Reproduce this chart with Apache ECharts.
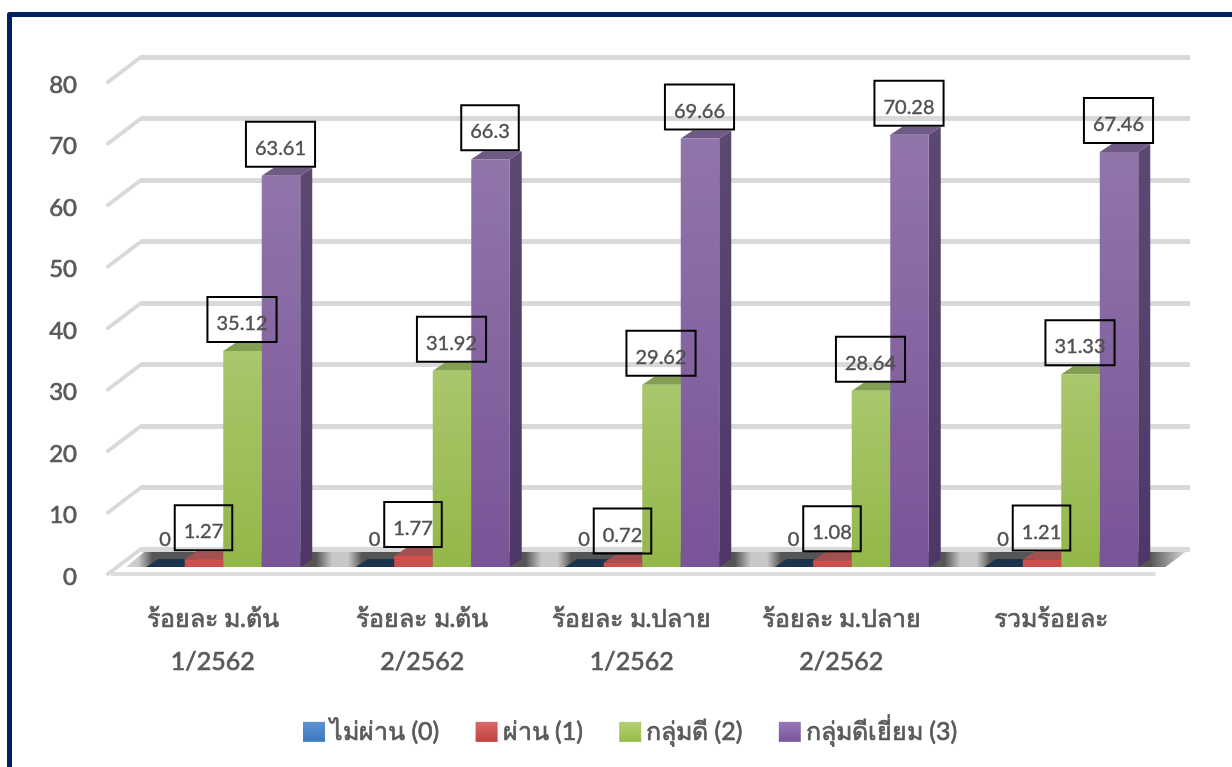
<!DOCTYPE html>
<html><head><meta charset="utf-8">
<style>html,body{margin:0;padding:0;background:#fff}#c{width:1232px;height:767px}</style>
<script src="https://cdn.jsdelivr.net/npm/echarts@6/dist/echarts.min.js"></script>
</head><body><div id="c"></div>
<script>
const categories = ['ร้อยละ ม.ต้น\n1/2562','ร้อยละ ม.ต้น\n2/2562','ร้อยละ ม.ปลาย\n1/2562','ร้อยละ ม.ปลาย\n2/2562','รวมร้อยละ'];
const seriesNames = ['ไม่ผ่าน (0)','ผ่าน (1)','กลุ่มดี (2)','กลุ่มดีเยี่ยม (3)'];
const notPass = [0,0,0,0,0];
const pass = [1.27,1.77,0.72,1.08,1.21];
const good = [35.12,31.92,29.62,28.64,31.33];
const excellent = [63.61,66.3,69.66,70.28,67.46];
const yTicks = [0,10,20,30,40,50,60,70,80];
const allValues = [notPass,pass,good,excellent];
const legendColors = [['#5b93d3','#3d78bd'],['#d96a68','#c0413f'],['#b3d074','#96bb4a'],['#9678b8','#7a559c']];
const faces = [
 {front:['#4a7ebb','#3a6ea8'],side:['#1c3350','#1c3350'],top:'#1c3350'},
 {front:['#d0504e','#c84f4c'],side:['#8e3a39','#8e3a39'],top:'#a25050'},
 {front:['#a9c76c','#93b749'],side:['#6f8b38','#6f8b38'],top:'#83a052'},
 {front:['#9075ab','#795497'],side:['#5c4972','#4e3768'],top:'#6f5a85'}
];
const font = 'Lato,"Noto Sans",sans-serif';
const grey = '#595959';
const DX=33, DY=-25, BX=11, BY=-7, BAR=38.5, TX=12, TY=-8;
const wallW = 1047.5;
const vGrad=(a,b)=>({type:'linear',x:0,y:0,x2:0,y2:1,colorStops:[{offset:0,color:a},{offset:1,color:b}]});

function renderBar(si){
  return function(params,api){
    const c = api.coord([api.value(0),0]);
    const v = api.value(1);
    const t = api.coord([api.value(0),v]);
    const x0 = c[0]+BX+(si-2)*BAR-0.5, x1=x0+BAR, yb=c[1]+BY, yt=t[1]+BY;
    const f=faces[si];
    return {type:'group',children:[
     {type:'polygon',shape:{points:[[x1,yb],[x1+TX,yb+TY],[x1+TX,yt+TY],[x1,yt]]},style:{fill:vGrad(f.side[0],f.side[1])}},
     {type:'polygon',shape:{points:[[x0,yt],[x0+TX,yt+TY],[x1+TX,yt+TY],[x1,yt]]},style:{fill:f.top}},
     {type:'rect',shape:{x:x0,y:yt,width:BAR,height:yb-yt},style:{fill:vGrad(f.front[0],f.front[1])}}
    ]};
  };
}
function renderLabel(si){
  return function(params,api){
    const c = api.coord([api.value(0),api.value(1)]);
    const v = api.value(1);
    const cx = c[0]+BX+(si-2)*BAR-0.5+BAR/2, y=c[1]+BY-9;
    return {type:'text',style:{x:cx-0.5,y:y,text:String(v),align:'center',verticalAlign:'bottom',
      font:'20px '+font,fill:'#505050',stroke:'#505050',lineWidth:0.4,lineHeight:27,padding:[13,9,5,9],
      borderColor:v===0?'transparent':'#000',borderWidth:v===0?0:2}};
  };
}
function barData(arr){return arr.map((v,i)=>[i,v]);}
function floorStops(x0,w){
  const s=[];
  const put=(px,color)=>{const o=(px-x0)/w; if(o>=0&&o<=1)s.push({offset:o,color});};
  put(x0,'#d4d4d4');
  for(let i=0;i<5;i++){
    const m=340+209.5*(i-1);
    put(m-24,'#555');put(m-8,'#c8c8c8');put(m+8,'#c8c8c8');put(m+22,'#555');
  }
  put(1150,'#555');put(1185,'#d4d4d4');
  return s;
}

const series=[];
series.push({type:'custom',xAxisIndex:0,yAxisIndex:0,z:1,silent:true,data:yTicks.map(v=>[0,v]),
  renderItem(params,api){
    const p=api.coord([0,api.value(1)]);
    const x=params.coordSys.x,y=p[1];
    return {type:'line',shape:{x1:x,y1:y,x2:x+DX,y2:y+DY},style:{stroke:'#d9d9d9',lineWidth:4,lineCap:'round'}};
  }});
series.push({type:'custom',xAxisIndex:0,yAxisIndex:0,z:2,silent:true,data:[[0,0]],
  renderItem(params,api){
    const p=api.coord([0,0]);const rect=params.coordSys;
    const fx=rect.x+18, fw=wallW+12;
    return {type:'group',children:[
      {type:'line',shape:{x1:rect.x+3,y1:p[1],x2:rect.x+rect.width,y2:p[1]},style:{stroke:'#dedede',lineWidth:4}},
      {type:'polygon',shape:{points:[[fx,p[1]-7],[fx+18,p[1]-22],[fx+fw,p[1]-22],[fx+fw-20,p[1]-7]]},
        style:{fill:{type:'linear',x:fx,y:0,x2:fx+fw,y2:0,global:true,colorStops:floorStops(fx,fw)}}}
    ]};
  }});
allValues.forEach((arr,si)=>{
  series.push({name:seriesNames[si],type:'custom',xAxisIndex:0,yAxisIndex:0,z:3+si,silent:true,data:barData(arr),encode:{x:0,y:1},renderItem:renderBar(si),
    itemStyle:{color:legendColors[si][1]}});
});
allValues.forEach((arr,si)=>{
  series.push({type:'custom',xAxisIndex:0,yAxisIndex:0,z:10,silent:true,data:barData(arr),encode:{x:0,y:1},renderItem:renderLabel(si)});
});

const legendItems = seriesNames.map((n,i)=>({name:n,icon:'rect',itemStyle:{color:vGrad(legendColors[i][0],legendColors[i][1])}}));

const chart=echarts.init(document.getElementById('c'),null,{renderer:'canvas'});
chart.setOption({
  animation:false,backgroundColor:'#fff',
  textStyle:{fontFamily:font},
  legend:{data:legendItems,left:303,top:719,padding:0,itemWidth:22,itemHeight:20,itemGap:36,selectedMode:false,
    textStyle:{fontSize:25,color:grey,fontFamily:font,textBorderColor:grey,textBorderWidth:0.7}},
  grid:[
   {left:108,width:1047.5,top:82,height:492},
   {left:141,width:1049,top:57,height:492}
  ],
  xAxis:[
   {type:'category',gridIndex:0,data:categories,axisLine:{show:false},axisTick:{show:false},
    axisLabel:{margin:23,fontSize:25,color:grey,lineHeight:43,fontFamily:font,interval:0,textBorderColor:grey,textBorderWidth:0.7}},
   {type:'category',gridIndex:1,data:categories,show:false}
  ],
  yAxis:[
   {type:'value',gridIndex:0,min:0,max:80,interval:10,axisLine:{show:false},axisTick:{show:false},splitLine:{show:false},
    axisLabel:{margin:31,formatter:'{a|{value}}',
      rich:{a:{fontSize:24,color:grey,fontFamily:font,padding:[6,0,0,0],textBorderColor:grey,textBorderWidth:0.7}}}},
   {type:'value',gridIndex:1,min:0,max:80,interval:10,axisLine:{show:false},axisTick:{show:false},axisLabel:{show:false},
    splitLine:{show:true,lineStyle:{color:'#d9d9d9',width:5}}}
  ],
  series,
  graphic:[
    {type:'polyline',shape:{points:[[9.5,767],[9.5,14.5],[1232,14.5]]},style:{stroke:'#002060',lineWidth:5,lineJoin:'round',fill:null},z:20,silent:true}
  ]
});
</script></body></html>
